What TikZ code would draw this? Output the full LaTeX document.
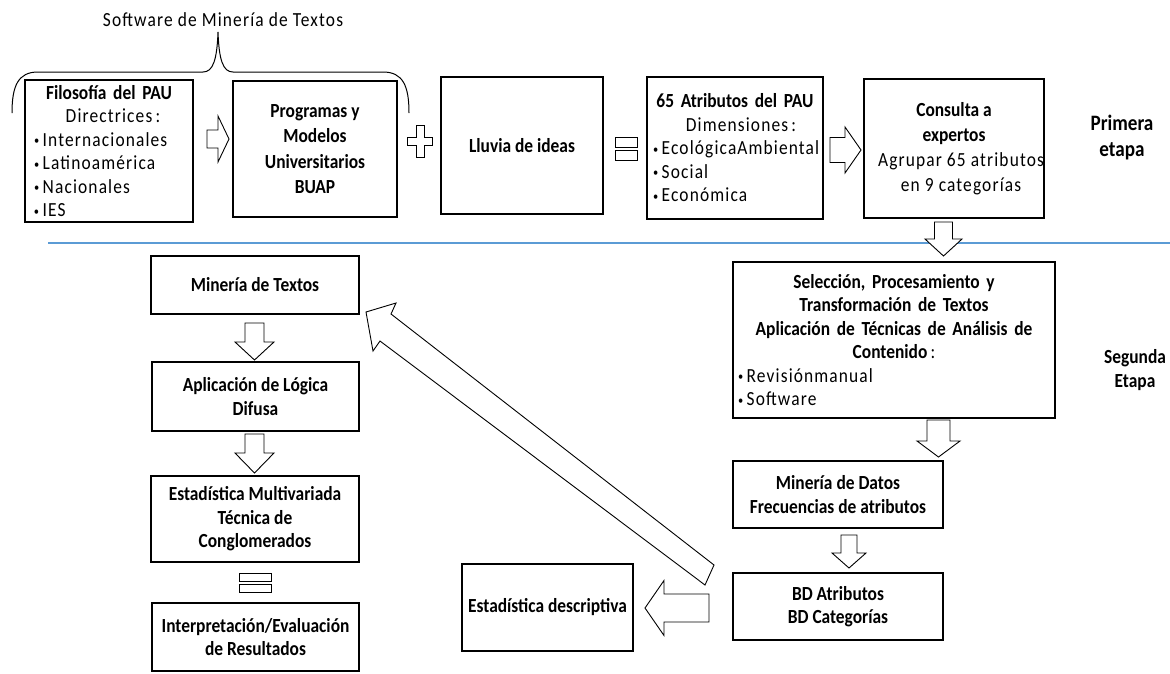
\documentclass[tikz,border=0pt]{standalone}
\usepackage{fontspec}
\setmainfont{Carlito}[FakeStretch=0.87]
\newfontfamily\spaced{Carlito}[FakeStretch=0.87,LetterSpace=5.7]
\usetikzlibrary{calc}
\definecolor{sepblue}{RGB}{91,155,213}
\newcommand{\hd}{\rmfamily\bfseries}
\newcommand{\bul}{\raisebox{1.5pt}{\fontsize{12}{12}\selectfont •}\hspace{3.5pt}}

% hollow block arrow: tail, tip, half shaft width, half head width, head length
\newcommand{\blockarrow}[5]{%
  \draw[barrow] let \p1=(#1), \p2=(#2),
      \n1={atan2(\y2-\y1,\x2-\x1)},
      \n2={veclen(\x2-\x1,\y2-\y1)-#5},
      \n3={#3}, \n4={#4}
    in ($(\p1)+({\n1+90}:\n3)$) -- ($(\p1)+(\n1:\n2)+({\n1+90}:\n3)$)
       -- ($(\p1)+(\n1:\n2)+({\n1+90}:\n4)$) -- (\p2)
       -- ($(\p1)+(\n1:\n2)+({\n1-90}:\n4)$) -- ($(\p1)+(\n1:\n2)+({\n1-90}:\n3)$)
       -- ($(\p1)+({\n1-90}:\n3)$) -- cycle;}

\tikzset{
  box/.style={draw, line width=1.2pt, inner sep=0pt, align=center,
    font=\spaced\fontsize{20}{23.5}\selectfont},
  hbox/.style={box, font=\hd\fontsize{20}{23.5}\selectfont},
  listbox/.style={box, align=left},
  barrow/.style={draw, line width=0.9pt, fill=white, line join=miter},
  sign/.style={draw, line width=0.9pt},
  stage/.style={font=\hd\fontsize{22}{26}\selectfont, align=center, inner sep=0pt},
  caption/.style={font=\spaced\fontsize{20}{23.5}\selectfont, inner sep=0pt},
  brace/.style={draw, line width=1pt},
  separator/.style={draw=sepblue, line width=1.5pt},
}

\begin{document}
\begin{tikzpicture}[x=1pt,y=-1pt]
\useasboundingbox (0,0) rectangle (1170,673);

% first stage
\node[listbox, minimum width=168, minimum height=142, text width=150] (filo) at (109,151)
  {{\centering\hd Filosofía del PAU\par}{\centering\hspace*{8pt}Directrices\,:\par}\raggedright
   \bul Internacionales\\\bul Latinoamérica\\\bul Nacionales\\\bul IES};
\node[hbox, minimum width=164, minimum height=136, font=\hd\fontsize{20}{25.5}\selectfont] (prog) at (315,149)
  {Programas y\\Modelos\\Universitarios\\BUAP};
\node[hbox, minimum width=162, minimum height=137] (lluvia) at (522,145.5) {Lluvia de ideas};
\node[listbox, minimum width=176, minimum height=142, text width=164] (attr) at (735,148)
  {{\centering\hd 65 Atributos del PAU\par}{\centering\hspace*{12pt}Dimensiones\,:\par}\raggedright
   \mbox{\bul Ecológica\kern1pt Ambiental}\\\bul Social\\\bul Económica};
\node[box, minimum width=176, minimum height=139, font=\spaced\fontsize{20}{25}\selectfont] (cons) at (954,148.5)
  {{\hd Consulta a}\\{\hd expertos}\\\hspace*{14pt}Agrupar 65 atributos\\\hspace*{14pt}en 9 categorías};

\node[caption] (sw) at (223,20) {Software de Minería de Textos};
\path[brace] (12,113) .. controls (12,86) and (18,72) .. (38,72) -- (203,72)
  .. controls (213,72) and (217,60) .. (218,32)
  .. controls (219,60) and (223,72) .. (233,72) -- (383,72)
  .. controls (403,72) and (409,86) .. (409,113);

\node[stage] (st1) at (1122,138) {Primera\\etapa};

% plus and equals signs
\path[sign] (416,125) -- (424,125) -- (424,137) -- (432,137) -- (432,145) -- (424,145)
  -- (424,157) -- (416,157) -- (416,145) -- (407,145) -- (407,137) -- (416,137) -- cycle;
\path[sign] (615,137) rectangle (637,147) (615,150) rectangle (637,160);

% stage separator
\path[separator] (48,243) -- (1170,243);

% second stage
\node[listbox, minimum width=322, minimum height=156, text width=312] (sel) at (894,340)
  {{\centering\hd Selección, Procesamiento y\\Transformación de Textos\\Aplicación de Técnicas de Análisis de\\Contenido{\spaced\mdseries\,:}\par}\raggedright
   \bul Revisión\kern1pt manual\\\bul Software};
\node[hbox, minimum width=210, minimum height=67] (mdat) at (838,494.5) {Minería de Datos\\Frecuencias de atributos};
\node[hbox, minimum width=210, minimum height=67] (bd) at (838,606.5) {BD Atributos\\BD Categorías};
\node[hbox, minimum width=171, minimum height=87] (edesc) at (547.5,607.5) {Estadística descriptiva};
\node[hbox, minimum width=208, minimum height=58] (mtext) at (255,285) {Minería de Textos};
\node[hbox, minimum width=207, minimum height=69] (apl) at (255.5,396.5) {Aplicación de Lógica\\Difusa};
\node[hbox, minimum width=208, minimum height=86] (emult) at (255,519) {Estadística Multivariada\\Técnica de\\Conglomerados};
\node[hbox, minimum width=207, minimum height=68] (interp) at (255.5,637) {Interpretación/Evaluación\\de Resultados};

\node[stage, font=\hd\fontsize{20}{24}\selectfont] (st2) at (1135,370) {Segunda\\Etapa};

\path[sign] (239,573) rectangle (271,581) (239,584) rectangle (271,592);

% block arrows between the steps
\coordinate (a1s) at (207,139);   \coordinate (a1e) at (229,139);
\coordinate (a2s) at (830,150);   \coordinate (a2e) at (861,150);
\coordinate (d1s) at (943.5,222); \coordinate (d1e) at (943.5,256);
\coordinate (d2s) at (938.5,420); \coordinate (d2e) at (938.5,457);
\coordinate (d3s) at (849,535);   \coordinate (d3e) at (849,568);
\coordinate (d4s) at (254.5,323); \coordinate (d4e) at (254.5,360);
\coordinate (d5s) at (254.5,434); \coordinate (d5e) at (254.5,473);
\coordinate (l1s) at (709,608);   \coordinate (l1e) at (645,608);
\blockarrow{a1s}{a1e}{9pt}{23pt}{11pt}
\blockarrow{a2s}{a2e}{12.5pt}{23pt}{16pt}
\blockarrow{d1s}{d1e}{9pt}{18.5pt}{17pt}
\blockarrow{d2s}{d2e}{11.5pt}{21.5pt}{16pt}
\blockarrow{d3s}{d3e}{8pt}{17pt}{15pt}
\blockarrow{d4s}{d4e}{9.5pt}{19.5pt}{18pt}
\blockarrow{d5s}{d5e}{9.5pt}{19.5pt}{20pt}
\blockarrow{l1s}{l1e}{14pt}{27.5pt}{19pt}

% long feedback arrow back to text mining
\path[barrow] (366,312) -- (396,303) -- (391,314) -- (714,565) -- (705,585)
  -- (380,341) -- (373,351) -- cycle;
\end{tikzpicture}
\end{document}
